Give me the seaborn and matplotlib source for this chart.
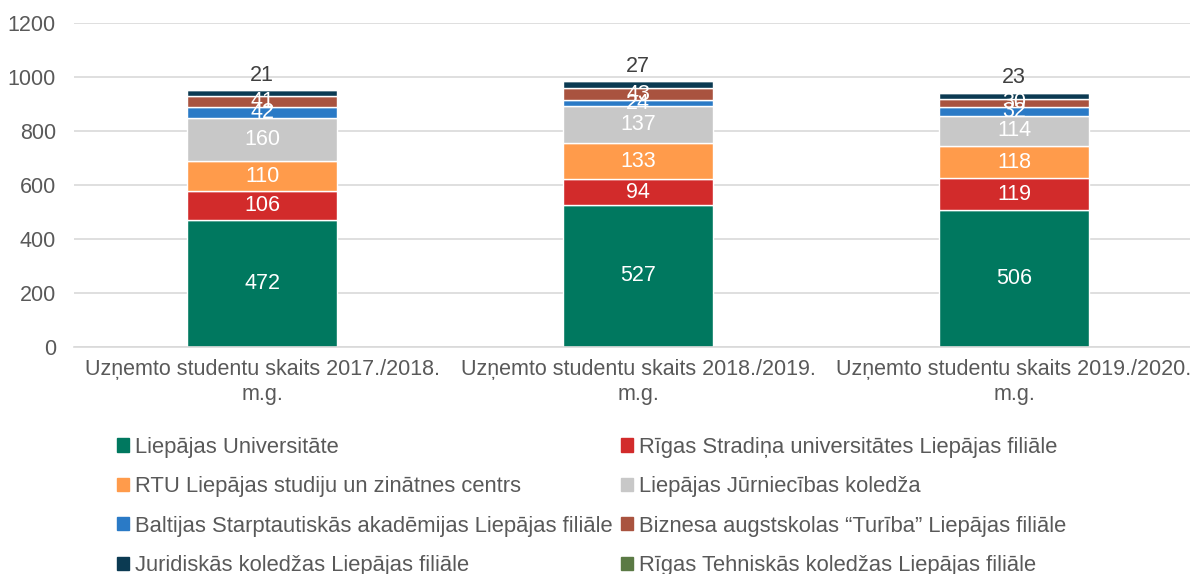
import numpy as np
import pandas as pd
import matplotlib
matplotlib.use('Agg')
import matplotlib.pyplot as plt
import seaborn as sns

# dati
categories = ['Uzņemto studentu skaits 2017./2018.\nm.g.',
              'Uzņemto studentu skaits 2018./2019.\nm.g.',
              'Uzņemto studentu skaits 2019./2020.\nm.g.']
series_names = ['Liepājas Universitāte',
                'Rīgas Stradiņa universitātes Liepājas filiāle',
                'RTU Liepājas studiju un zinātnes centrs',
                'Liepājas Jūrniecības koledža',
                'Baltijas Starptautiskās akadēmijas Liepājas filiāle',
                'Biznesa augstskolas “Turība” Liepājas filiāle',
                'Juridiskās koledžas Liepājas filiāle',
                'Rīgas Tehniskās koledžas Liepājas filiāle']
lu = [472, 527, 506]
rsu = [106, 94, 119]
rtu = [110, 133, 118]
jurn = [160, 137, 114]
bsa = [42, 24, 32]
turiba = [41, 43, 30]
jurid = [21, 27, 23]
rtk = [0, 0, 0]
values = [lu, rsu, rtu, jurn, bsa, turiba, jurid, rtk]
colors = ['#00785F', '#D22B2B', '#FF9B4B', '#C8C8C8',
          '#2A7AC6', '#A9533F', '#0B3A52', '#5B7A45']

sns.set_style('white')
plt.rcParams['font.family'] = ['Liberation Sans', 'DejaVu Sans']

fig = plt.figure(figsize=(11.9, 5.74), dpi=100)
ax = fig.add_axes([74 / 1190, 1 - 347 / 574, 1116 / 1190, 324 / 574])

bottom = np.zeros(3)
handles = []
for i, (name, vals) in enumerate(zip(series_names, values)):
    sns.barplot(x=categories, y=vals, bottom=bottom, color=colors[i],
                width=0.4, saturation=1, errorbar=None, ax=ax)
    cont = ax.containers[-1]
    handles.append(plt.Rectangle((0, 0), 1, 1, color=colors[i], label=name))
    if name == 'Juridiskās koledžas Liepājas filiāle':
        for j, v in enumerate(vals):
            ax.annotate(str(v), (j, bottom[j] + v), xytext=(0, 3),
                        textcoords='offset points', ha='center', va='bottom',
                        fontsize=15.5, color='#404040')
    elif sum(vals) > 0:
        ax.bar_label(cont, labels=[str(v) for v in vals], label_type='center',
                     color='white', fontsize=15.5)
    bottom = bottom + np.array(vals)

ax.set_ylim(0, 1200)
ax.set_xlim(-0.5, 2.468)
ax.set_yticks(range(0, 1201, 200))
ax.yaxis.grid(True, color='#D9D9D9', linewidth=1.2)
ax.set_axisbelow(True)
for s in ['left', 'right', 'top']:
    ax.spines[s].set_visible(False)
ax.spines['bottom'].set_color('#D9D9D9')
ax.spines['bottom'].set_linewidth(1.2)
ax.tick_params(axis='x', length=0, labelsize=15.5, labelcolor='#595959', pad=9)
ax.tick_params(axis='y', length=0, labelsize=15.5, labelcolor='#595959', pad=13)
ax.set_xlabel('')
ax.set_ylabel('')

# legenda pa rindām (2 kolonnas)
leg_handles = handles[0::2] + handles[1::2]
fig.legend(handles=leg_handles, loc='upper left', bbox_to_anchor=(108 / 1190, 1 - 428 / 574),
           ncol=2, frameon=False, fontsize=15.8, labelcolor='#595959',
           handlelength=0.55, handleheight=0.55, handletextpad=0.3,
           labelspacing=0.84, columnspacing=0.35, borderaxespad=0)

fig.savefig('out.png', dpi=100)
